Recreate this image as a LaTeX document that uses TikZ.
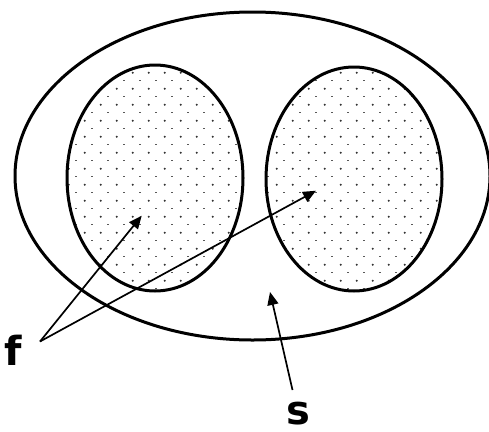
\documentclass[tikz,border=0pt]{standalone}
\usepackage{fontspec}
\setmainfont{DejaVu Sans}
\usetikzlibrary{arrows.meta}
\begin{document}
\begin{tikzpicture}[x=1pt,y=-1pt,
  ell/.style={line width=3pt},
  arr/.style={line width=1.7pt,-{Triangle[length=13pt,width=11pt]}},
  lbl/.style={font=\fontsize{40}{48}\selectfont\bfseries, inner sep=0pt, anchor=base west},
  dotc/.style={fill=black!80},
  dashc/.style={draw=black!65, line width=1pt}]
\useasboundingbox (0,0) rectangle (489,431);
% dotted fills
\foreach \cx/\cy in {155/178, 354/179}{
  \begin{scope}
    \clip (\cx,\cy) ellipse [x radius=88, y radius=113];
    \foreach \k in {-4,...,21}{
      \foreach \m in {-6,...,9}{
        \fill[dotc] (116.7+16*\k,152.7+16*\m) circle (1.1pt);
        \draw[dashc] (107.3+16*\k,160.7+16*\m) -- (109.3+16*\k,160.7+16*\m);
      }
    }
  \end{scope}
}
% ellipses
\draw[ell] (252.5,176) ellipse [x radius=237.5, y radius=164];
\draw[ell] (155,178) ellipse [x radius=88, y radius=113];
\draw[ell] (354,179) ellipse [x radius=88, y radius=112];
% labels
\node[lbl] (f) at (4,365) {f};
\node[lbl] (s) at (286,424) {s};
% connectors
\coordinate (fs) at (40,341.5);
\coordinate (t1) at (141.7,215.7);
\coordinate (t2) at (316,190.7);
\coordinate (ss) at (292.5,390);
\coordinate (t3) at (270,292);
\draw[arr] (fs) -- (t1);
\draw[arr] (fs) -- (t2);
\draw[arr] (ss) -- (t3);
\end{tikzpicture}
\end{document}
